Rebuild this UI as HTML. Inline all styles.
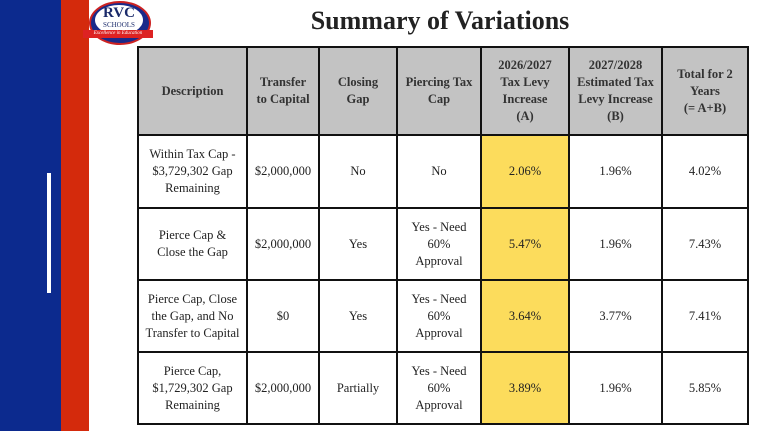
<!DOCTYPE html>
<html><head><meta charset="utf-8"><style>
body{margin:0;width:768px;height:431px;background:#fff;position:relative;overflow:hidden;font-family:"Liberation Serif",serif}
.a{position:absolute}
table{position:absolute;left:137px;top:46px;width:610px;height:377px;border-collapse:collapse;table-layout:fixed}
td{border:2px solid #111;text-align:center;vertical-align:middle;font-size:12.5px;line-height:17px;color:#222;padding:0;white-space:nowrap}
tr.h td{background:#c3c3c3;font-weight:bold;color:#333}
td.y{background:#fcdc5c}
</style></head><body>
<div class="a" style="left:0;top:0;width:61px;height:431px;background:#0c2a8e"></div>
<div class="a" style="left:61px;top:0;width:28px;height:431px;background:#d42a0c"></div>
<div class="a" style="left:47px;top:173px;width:4px;height:120px;background:#fff"></div>
<div class="a" style="left:86px;top:1px;width:66px;height:41px">
<div class="a" style="left:3px;top:0;width:58px;height:40px;border-radius:50%;background:#1a2a8a;border:2px solid #c22"></div>
<div class="a" style="left:9px;top:4px;width:48px;height:30px;border-radius:50%;background:#fff"></div>
<div class="a" style="left:0;top:5px;width:66px;text-align:center;font-size:15px;font-weight:bold;color:#1a2a6a;line-height:15px">RVC</div>
<div class="a" style="left:0;top:20px;width:66px;text-align:center;font-size:7px;color:#1a2a6a;line-height:8px">SCHOOLS</div>
<div class="a" style="left:-3px;top:29px;width:70px;height:8px;background:#d22;color:#fff;font-size:5px;line-height:8px;text-align:center;font-style:italic">Excellence in Education</div>
</div>
<div class="a" style="left:280px;top:4px;width:320px;text-align:center;font-size:26px;font-weight:bold;color:#222;line-height:34px">Summary of Variations</div>
<table>
<colgroup><col style="width:109px"><col style="width:72px"><col style="width:78px"><col style="width:84px"><col style="width:88px"><col style="width:93px"><col style="width:86px"></colgroup>
<tr class="h" style="height:88px"><td>Description</td><td>Transfer<br>to Capital</td><td>Closing<br>Gap</td><td>Piercing Tax<br>Cap</td><td class="y">2026/2027<br>Tax Levy<br>Increase<br>(A)</td><td>2027/2028<br>Estimated Tax<br>Levy Increase<br>(B)</td><td>Total for 2<br>Years<br>(= A+B)</td></tr>
<tr style="height:73px"><td>Within Tax Cap -<br>$3,729,302 Gap<br>Remaining</td><td>$2,000,000</td><td>No</td><td>No</td><td class="y">2.06%</td><td>1.96%</td><td>4.02%</td></tr>
<tr style="height:72px"><td>Pierce Cap &amp;<br>Close the Gap</td><td>$2,000,000</td><td>Yes</td><td>Yes - Need<br>60%<br>Approval</td><td class="y">5.47%</td><td>1.96%</td><td>7.43%</td></tr>
<tr style="height:72px"><td>Pierce Cap, Close<br>the Gap, and No<br>Transfer to Capital</td><td>$0</td><td>Yes</td><td>Yes - Need<br>60%<br>Approval</td><td class="y">3.64%</td><td>3.77%</td><td>7.41%</td></tr>
<tr style="height:72px"><td>Pierce Cap,<br>$1,729,302 Gap<br>Remaining</td><td>$2,000,000</td><td>Partially</td><td>Yes - Need<br>60%<br>Approval</td><td class="y">3.89%</td><td>1.96%</td><td>5.85%</td></tr>
</table>
</body></html>
